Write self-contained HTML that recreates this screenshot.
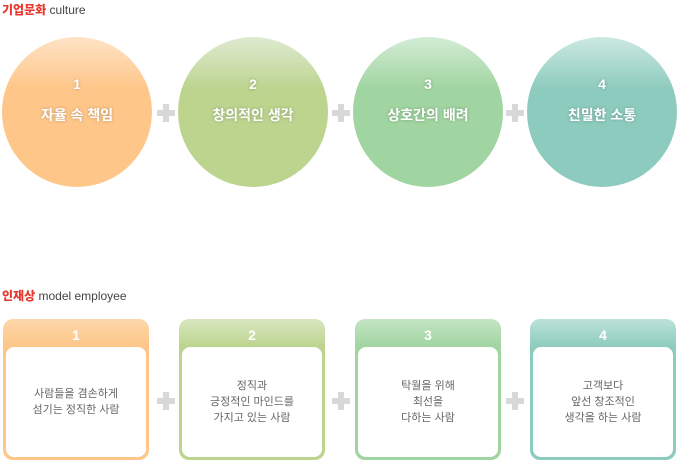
<!DOCTYPE html>
<html><head><meta charset="utf-8"><style>
body{margin:0;width:679px;height:466px;background:#fff;position:relative;overflow:hidden;font-family:"Liberation Sans","Noto Sans CJK KR",sans-serif}
.t{position:absolute;left:2px;font-size:12px;font-weight:bold;color:#444}
.t b{color:#e8372f}
.t span{font-weight:normal;color:#444}
.c{position:absolute;top:37px;width:150px;height:150px;border-radius:50%;color:#fff;font-weight:bold;text-align:center;text-shadow:0 0 3px rgba(0,0,0,.25)}
.c .n{position:absolute;top:39px;width:100%;font-size:14px}
.c .l{position:absolute;top:68px;width:100%;font-size:14px}
.p{position:absolute;width:18px;height:18px}
.p:before{content:"";position:absolute;left:6px;top:0;width:6px;height:18px;background:#d8d8d8}
.p:after{content:"";position:absolute;left:0;top:6px;width:18px;height:6px;background:#d8d8d8}
.b{position:absolute;top:319px;width:146px;height:141px;border-radius:10px;color:#fff;font-weight:bold;text-align:center}
.b .n{position:absolute;top:8px;width:100%;font-size:14px}
.b .w{position:absolute;left:3px;right:3px;top:28px;bottom:3px;background:#fff;border-radius:8px;color:#666;font-weight:normal;font-size:11px;line-height:16px;display:flex;align-items:center;justify-content:center}
</style></head><body>
<div class="t" style="top:1px"><b>기업문화</b> <span>culture</span></div>
<div class="c" style="left:2px;background:linear-gradient(#fee3c6,#fec688 35%)"><div class="n">1</div><div class="l">자율 속 책임</div></div>
<div class="c" style="left:178px;background:linear-gradient(#dfead0,#bcd48e 35%)"><div class="n">2</div><div class="l">창의적인 생각</div></div>
<div class="c" style="left:353px;background:linear-gradient(#d3ecd5,#a0d4a0 35%)"><div class="n">3</div><div class="l">상호간의 배려</div></div>
<div class="c" style="left:527px;background:linear-gradient(#cce9e2,#8dcbbe 35%)"><div class="n">4</div><div class="l">친밀한 소통</div></div>
<div class="p" style="left:157px;top:104px"></div>
<div class="p" style="left:332px;top:104px"></div>
<div class="p" style="left:506px;top:104px"></div>
<div class="t" style="top:287px"><b>인재상</b> <span>model employee</span></div>
<div class="b" style="left:3px;background:linear-gradient(#fdd7ab,#fec688 20%)"><div class="n">1</div><div class="w">사람들을 겸손하게<br>섬기는 정직한 사람</div></div>
<div class="b" style="left:179px;background:linear-gradient(#d8e7c0,#bcd48e 20%)"><div class="n">2</div><div class="w">정직과<br>긍정적인 마인드를<br>가지고 있는 사람</div></div>
<div class="b" style="left:355px;background:linear-gradient(#c4e5c4,#a0d4a0 20%)"><div class="n">3</div><div class="w">탁월을 위해<br>최선을<br>다하는 사람</div></div>
<div class="b" style="left:530px;background:linear-gradient(#bde2da,#8dcbbe 20%)"><div class="n">4</div><div class="w">고객보다<br>앞선 창조적인<br>생각을 하는 사람</div></div>
<div class="p" style="left:157px;top:392px"></div>
<div class="p" style="left:332px;top:392px"></div>
<div class="p" style="left:506px;top:392px"></div>
</body></html>
